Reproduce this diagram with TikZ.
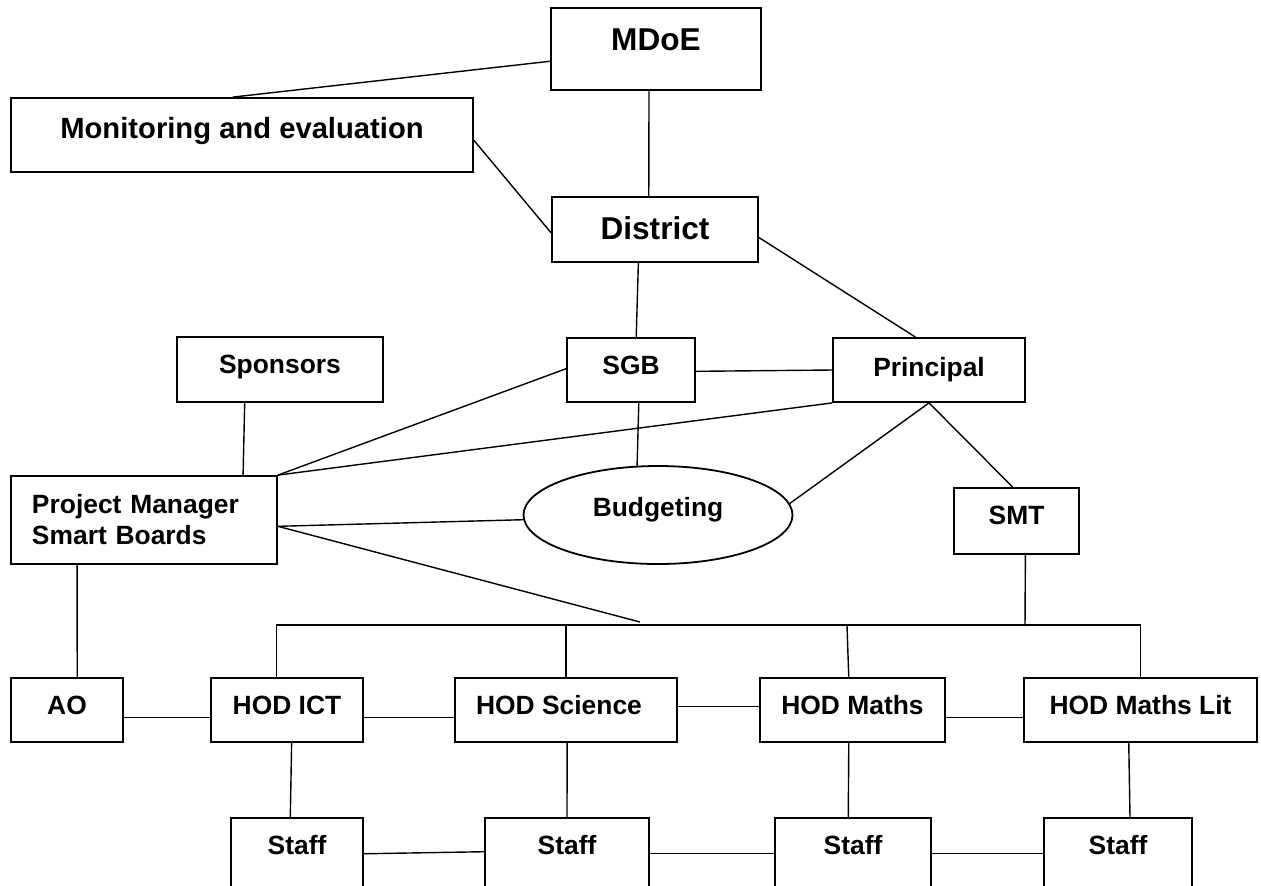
\documentclass[tikz,border=0pt]{standalone}
\usepackage{fontspec}
\setmainfont{Liberation Sans}
\usetikzlibrary{calc,shapes.geometric}
\tikzset{
  box/.style={draw, rectangle, line width=0.9pt, inner sep=0pt},
  t13/.style={font=\fontsize{13.2}{15.5}\selectfont\bfseries, text height=9.45pt},
  t15/.style={font=\fontsize{14.6}{17}\selectfont\bfseries, text height=10.45pt},
  t16/.style={font=\fontsize{15.8}{18}\selectfont\bfseries, text height=11.3pt},
  conn/.style={line width=0.7pt},
}
\begin{document}
\begin{tikzpicture}[x=0.5pt,y=-0.5pt]
\useasboundingbox (0,0) rectangle (1261,885);
\clip (0,0) rectangle (1261,885);
% nodes
\node[box,t16,minimum width=105pt,minimum height=41pt,text depth=10pt] (mdoe) at (656,49) {MDoE};
\node[box,t15,minimum width=231pt,minimum height=37pt,text depth=7pt] (mon) at (242,135) {Monitoring and evaluation};
\node[box,t16,minimum width=103pt,minimum height=32.5pt,text depth=1.5pt] (dist) at (655,229.5) {District};
\node[box,t13,minimum width=64pt,minimum height=32pt,text depth=5pt] (sgb) at (631,370) {SGB};
\node[box,t13,minimum width=96pt,minimum height=32pt,text depth=3pt] (prin) at (929,370) {Principal};
\node[box,t13,minimum width=103pt,minimum height=32.5pt,text depth=5pt] (spon) at (280,369.5) {Sponsors};
\node[box,font=\fontsize{13.2}{15.5}\selectfont\bfseries,minimum width=133pt,minimum height=44pt,text width=112pt,align=left,inner xsep=10.5pt] (pm) at (144,520) {Project Manager\\Smart Boards};
\node[draw,ellipse,line width=0.9pt,inner sep=0pt,minimum width=134.5pt,minimum height=49pt,t13,text depth=8pt] (budg) at (658,515) {Budgeting};
\node[box,t13,minimum width=62.5pt,minimum height=33pt,text depth=6pt] (smt) at (1016.5,521) {SMT};
\node[box,t13,minimum width=56pt,minimum height=32pt,text depth=5pt] (ao) at (67,710) {AO};
\node[box,t13,minimum width=76pt,minimum height=32pt,text depth=5pt] (hodict) at (287,710) {HOD ICT};
\node[box,t13,minimum width=111pt,minimum height=32pt,text depth=5pt] (hodsci) at (566,710) {\hbox{HOD Science\kern7pt}};
\node[box,t13,minimum width=92.5pt,minimum height=32pt,text depth=5pt] (hodm) at (852.5,710) {HOD Maths};
\node[box,t13,minimum width=116.5pt,minimum height=32pt,text depth=5pt] (hodml) at (1140.5,710) {HOD Maths Lit};
\node[box,t13,minimum width=66pt,minimum height=50pt,text depth=23pt] (st1) at (297,868) {Staff};
\node[box,t13,minimum width=82pt,minimum height=50pt,text depth=23pt] (st2) at (567,868) {Staff};
\node[box,t13,minimum width=78pt,minimum height=50pt,text depth=23pt] (st3) at (853,868) {Staff};
\node[box,t13,minimum width=74pt,minimum height=50pt,text depth=23pt] (st4) at (1118,868) {Staff};
% connectors
\draw[conn] ($(mdoe.north west)!0.646!(mdoe.south west)$) -- ($(mon.north west)!0.48!(mon.north east)$);
\draw[conn] ($(mdoe.south west)!0.467!(mdoe.south east)$) -- ($(dist.north west)!0.47!(dist.north east)$);
\draw[conn] ($(mon.north east)!0.57!(mon.south east)$) -- ($(dist.north west)!0.55!(dist.south west)$);
\draw[conn] ($(dist.north east)!0.62!(dist.south east)$) -- ($(prin.north west)!0.43!(prin.north east)$);
\draw[conn] ($(dist.south west)!0.42!(dist.south east)$) -- ($(sgb.north west)!0.54!(sgb.north east)$);
\draw[conn] ($(sgb.north east)!0.52!(sgb.south east)$) -- (prin.west);
\draw[conn] ($(spon.south west)!0.33!(spon.south east)$) -- ($(pm.north west)!0.87!(pm.north east)$);
\draw[conn] (pm.north east) -- ($(sgb.north west)!0.48!(sgb.south west)$);
\draw[conn] (pm.north east) -- (prin.south west);
\draw[conn] ($(pm.north east)!0.57!(pm.south east)$) -- (budg.182.5);
\coordinate (pmbus) at (640,622);
\draw[conn] ($(pm.north east)!0.57!(pm.south east)$) -- (pmbus);
\draw[conn] ($(sgb.south west)!0.56!(sgb.south east)$) -- (budg.113);
\draw[conn] (prin.south) -- (budg.5);
\draw[conn] (prin.south) -- ($(smt.north west)!0.47!(smt.north east)$);
% bus
\draw[conn] ($(hodict.north west)!0.43!(hodict.north east)$) -- ++(0,-52) coordinate (busL) -| (hodml.north);
\coordinate (busSMT) at (1025,626);
\coordinate (busM) at (847,626);
\draw[conn] ($(smt.south west)!0.57!(smt.south east)$) -- (busSMT);
\draw[conn] (hodsci.north) -- (hodsci.north |- busL);
\draw[conn] (busM) -- ($(hodm.north west)!0.48!(hodm.north east)$);
% AO and HOD row
\draw[conn] ($(pm.south west)!0.25!(pm.south east)$) -- ($(ao.north west)!0.59!(ao.north east)$);
\draw[conn] ($(ao.north east)!0.61!(ao.south east)$) -- ($(hodict.north west)!0.61!(hodict.south west)$);
\draw[conn] ($(hodict.north east)!0.61!(hodict.south east)$) -- ($(hodsci.north west)!0.61!(hodsci.south west)$);
\draw[conn] ($(hodsci.north east)!0.45!(hodsci.south east)$) -- ($(hodm.north west)!0.45!(hodm.south west)$);
\draw[conn] ($(hodm.north east)!0.61!(hodm.south east)$) -- ($(hodml.north west)!0.61!(hodml.south west)$);
% HOD to staff
\draw[conn] ($(hodict.south west)!0.53!(hodict.south east)$) -- ($(st1.north west)!0.45!(st1.north east)$);
\draw[conn] ($(hodsci.south west)!0.505!(hodsci.south east)$) -- ($(st2.north west)!0.5!(st2.north east)$);
\draw[conn] ($(hodm.south west)!0.48!(hodm.south east)$) -- ($(st3.north west)!0.47!(st3.north east)$);
\draw[conn] ($(hodml.south west)!0.45!(hodml.south east)$) -- ($(st4.north west)!0.58!(st4.north east)$);
% staff row
\draw[conn] ($(st1.north east)!0.36!(st1.south east)$) -- ($(st2.north west)!0.34!(st2.south west)$);
\draw[conn] ($(st2.north east)!0.36!(st2.south east)$) -- ($(st3.north west)!0.36!(st3.south west)$);
\draw[conn] ($(st3.north east)!0.36!(st3.south east)$) -- ($(st4.north west)!0.36!(st4.south west)$);
\end{tikzpicture}
\end{document}
